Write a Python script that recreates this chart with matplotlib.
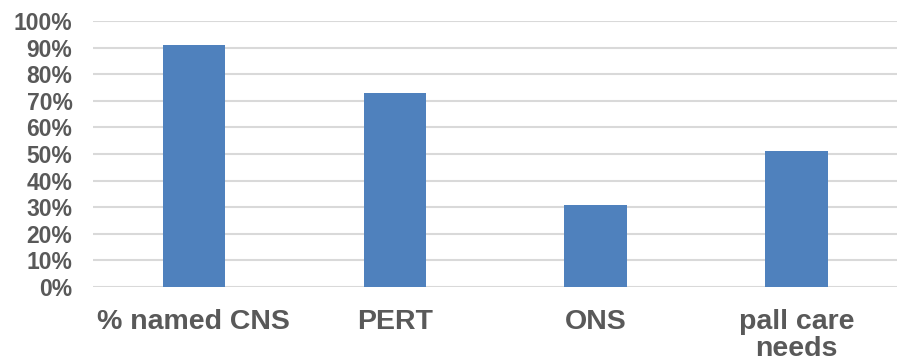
import matplotlib
matplotlib.use("Agg")
import matplotlib.pyplot as plt
from matplotlib.ticker import PercentFormatter

categories = ["% named CNS", "PERT", "ONS", "pall care\nneeds"]
values = [91, 73, 31, 51]
yticks = list(range(0, 101, 10))

plt.rcParams['font.family'] = ['Liberation Sans', 'DejaVu Sans']

fig = plt.figure(figsize=(8.97, 3.62), dpi=100)
ax = fig.add_axes([0.104, 0.207, 0.896, 0.735])

x = list(range(len(categories)))
ax.bar(x, values, width=0.31, color="#4f81bd", zorder=3)
ax.set_xlim(-0.5, len(categories) - 0.5)
ax.set_ylim(0, 100)
ax.set_yticks(yticks)
ax.yaxis.set_major_formatter(PercentFormatter(decimals=0))
ax.grid(axis='y', color="#d9d9d9", linewidth=1.5, zorder=0)
ax.set_xticks(x)
ax.set_xticklabels(categories, fontsize=20.5, fontweight='bold', color="#595959", linespacing=1.05)
for lab in ax.get_yticklabels():
    lab.set_fontsize(16.5)
    lab.set_fontweight('bold')
    lab.set_color("#595959")
ax.tick_params(axis='y', length=0, pad=15)
ax.tick_params(axis='x', length=0, pad=16)
for s in ax.spines.values():
    s.set_visible(False)

fig.savefig("out.png", dpi=100)
